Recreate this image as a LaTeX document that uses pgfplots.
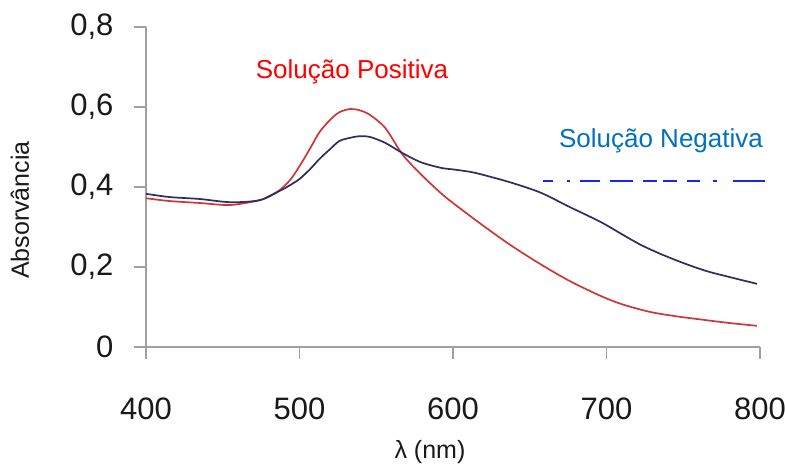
\documentclass[border=0pt]{standalone}
\usepackage{fontspec}
\setmainfont{Liberation Sans}
\usepackage{pgfplots}
\pgfplotsset{compat=1.18}
\definecolor{axisgray}{RGB}{160,160,160}
\definecolor{poscurve}{RGB}{205,55,55}
\definecolor{negcurve}{RGB}{45,45,95}
\definecolor{postext}{RGB}{255,0,0}
\definecolor{negtext}{RGB}{0,112,192}
\definecolor{cutblue}{RGB}{20,40,230}
\definecolor{labelgray}{RGB}{25,25,25}

\begin{document}
\begin{tikzpicture}
\useasboundingbox (-146pt,-121pt) rectangle (639pt,347pt);
\begin{axis}[
  at={(0,0)}, anchor=south west,
  width=614pt, height=320pt, scale only axis,
  xmin=400, xmax=800, ymin=0, ymax=0.8,
  axis x line*=bottom, axis y line*=left,
  axis line style={axisgray, line width=1.8pt},
  tick align=outside, major tick length=12pt,
  tick style={axisgray, line width=1.6pt},
  xtick={400,500,600,700,800},
  xticklabels={400,500,600,700,800},
  ytick={0,0.2,0.4,0.6,0.8},
  yticklabels={0,{0,2},{0,4},{0,6},{0,8}},
  ticklabel style={font=\fontsize{31}{36}\selectfont, text=labelgray},
  xticklabel style={yshift=-35pt},
  yticklabel style={xshift=-17pt},
  xlabel={λ (nm)},
  ylabel={Absorvância},
  label style={font=\fontsize{25}{30}\selectfont, text=labelgray},
  xlabel style={at={(rel axis cs:0.4625,0)}, anchor=center, yshift=-105pt},
  ylabel style={at={(rel axis cs:0,0.428)}, anchor=center, yshift=126pt},
  clip=false,
]
% Solucao Positiva
\addplot[poscurve, line width=1.7pt, smooth] coordinates {
(400,0.372) (415,0.365) (435,0.360) (455,0.355) (474,0.367) (480,0.377)
(487,0.392) (494,0.418) (500,0.452) (507,0.497) (513,0.537) (520,0.568)
(526,0.587) (533,0.595) (539,0.592) (546,0.580) (556,0.547) (567,0.482)
(579,0.432) (592,0.385) (600,0.360) (618,0.308) (637,0.256) (657,0.207)
(676,0.165) (696,0.128) (710,0.107) (728,0.088) (745,0.077) (761,0.069)
(780,0.060) (798,0.053)
};
% Solucao Negativa
\addplot[negcurve, line width=1.7pt, smooth] coordinates {
(400,0.383) (415,0.375) (435,0.370) (455,0.362) (474,0.367) (487,0.390)
(494,0.405) (500,0.420) (507,0.445) (513,0.470) (520,0.495) (526,0.515)
(533,0.523) (539,0.527) (546,0.525) (556,0.510) (567,0.485) (579,0.462)
(592,0.448) (600,0.444) (611,0.438) (618,0.432) (637,0.412) (657,0.386)
(676,0.350) (696,0.313) (710,0.282) (722,0.256) (735,0.233) (750,0.210)
(765,0.190) (780,0.175) (798,0.158)
};
\node[text=postext, font=\fontsize{26}{30}\selectfont] at (axis cs:534.2,0.6875) {Solução Positiva};
\node[text=negtext, font=\fontsize{26}{30}\selectfont] at (axis cs:735.5,0.515) {Solução Negativa};
\draw[cutblue, line width=2.5pt,
  dash pattern=on 10pt off 14pt on 3pt off 10pt on 20pt off 10pt on 23pt off 10pt on 14pt off 6pt on 14pt off 10pt on 13pt off 13pt on 4pt off 16pt on 32pt off 100pt]
  (axis cs:658.6,0.415) -- (axis cs:803.3,0.415);
\end{axis}
\end{tikzpicture}
\end{document}
